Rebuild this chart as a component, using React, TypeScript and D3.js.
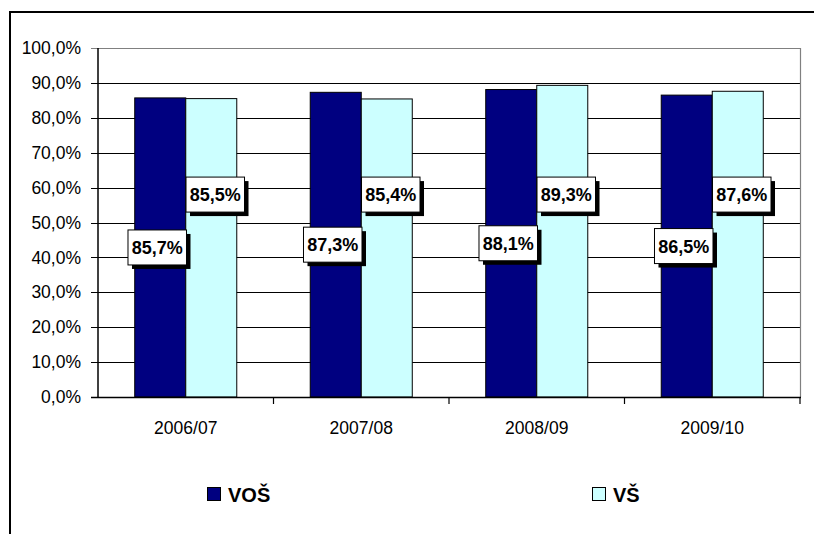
import React, { useEffect, useRef } from 'react';
import * as d3 from 'd3';

const categories = ['2006/07', '2007/08', '2008/09', '2009/10'];
const vosValues = [0.857, 0.873, 0.881, 0.865];
const vsValues = [0.855, 0.854, 0.893, 0.876];
const seriesNames = ['VOŠ', 'VŠ'];
const seriesColors = ['#000080', '#CCFFFF'];
const yTicks = [0, 0.1, 0.2, 0.3, 0.4, 0.5, 0.6, 0.7, 0.8, 0.9, 1.0];
// level where the VŠ labels were dragged to in the original
const vsLabelLevel = 0.58;

const fmt = (v: number) => (v * 100).toFixed(1).replace('.', ',') + '%';

export default function App() {
  const ref = useRef<SVGSVGElement>(null);

  useEffect(() => {
    const svg = d3.select(ref.current);
    svg.selectAll('*').remove();

    const width = 814, height = 534;
    const left = 98, right = 800, top = 48, bottom = 397;
    const font = 'Liberation Sans, Arial, sans-serif';

    // outer chart frame
    svg.append('rect')
      .attr('x', 10).attr('y', 12)
      .attr('width', 900).attr('height', 700)
      .attr('fill', '#fff').attr('stroke', '#000').attr('stroke-width', 2);

    const x = d3.scaleBand().domain(categories).range([left, right]);
    const y = d3.scaleLinear().domain([0, 1]).range([bottom, top]);
    const inner = d3.scaleBand().domain(seriesNames).range([0, x.bandwidth()])
      .paddingInner(0).paddingOuter(0.72);

    // gridlines
    svg.append('g').selectAll('line')
      .data(yTicks.filter(t => t > 0))
      .enter().append('line')
      .attr('x1', left - 7).attr('x2', right)
      .attr('y1', d => Math.round(y(d)) + 0.5).attr('y2', d => Math.round(y(d)) + 0.5)
      .attr('stroke', d => d === 1 ? '#808080' : '#000').attr('stroke-width', 1.2);

    // right plot border
    svg.append('line')
      .attr('x1', right + 0.5).attr('x2', right + 0.5)
      .attr('y1', top).attr('y2', bottom)
      .attr('stroke', '#808080').attr('stroke-width', 1.2);

    // y labels
    svg.append('g').selectAll('text')
      .data(yTicks).enter().append('text')
      .attr('x', 81).attr('y', d => y(d))
      .attr('dy', '0.35em').attr('text-anchor', 'end')
      .attr('font-family', font).attr('font-size', 17.5)
      .text(d => fmt(d));

    // bars
    const series = [vosValues, vsValues];
    series.forEach((vals, si) => {
      svg.append('g').selectAll('rect')
        .data(vals).enter().append('rect')
        .attr('x', (d, i) => x(categories[i])! + inner(seriesNames[si])!)
        .attr('y', d => y(d))
        .attr('width', inner.bandwidth())
        .attr('height', d => bottom - y(d))
        .attr('fill', seriesColors[si])
        .attr('stroke', '#000').attr('stroke-width', 1);
    });

    // axes
    svg.append('line')
      .attr('x1', left).attr('x2', left).attr('y1', top).attr('y2', bottom)
      .attr('stroke', '#000').attr('stroke-width', 1.5);
    svg.append('line')
      .attr('x1', left - 7).attr('x2', right + 1).attr('y1', bottom + 0.5).attr('y2', bottom + 0.5)
      .attr('stroke', '#000').attr('stroke-width', 1.5);
    svg.append('g').selectAll('line')
      .data(categories.slice(1).concat(['end']))
      .enter().append('line')
      .attr('x1', (d, i) => left + x.step() * (i + 1))
      .attr('x2', (d, i) => left + x.step() * (i + 1))
      .attr('y1', bottom).attr('y2', bottom + 7)
      .attr('stroke', '#000').attr('stroke-width', 1.2);

    svg.append('g').selectAll('text')
      .data(categories).enter().append('text')
      .attr('x', d => x(d)! + x.bandwidth() / 2)
      .attr('y', 433.5)
      .attr('text-anchor', 'middle')
      .attr('font-family', font).attr('font-size', 17.5)
      .text(d => d);

    // data labels with shadow boxes
    const bw = 58.5, bh = 35;
    series.forEach((vals, si) => {
      const g = svg.append('g');
      vals.forEach((v, i) => {
        const cx = x(categories[i])! + inner(seriesNames[si])! + inner.bandwidth() / 2 + (si === 1 ? 4 : -3);
        const cy = si === 0 ? y(v / 2) : y(vsLabelLevel);
        g.append('rect')
          .attr('x', cx - bw / 2 + 4).attr('y', cy - bh / 2 + 4)
          .attr('width', bw).attr('height', bh).attr('fill', '#000');
        g.append('rect')
          .attr('x', cx - bw / 2).attr('y', cy - bh / 2)
          .attr('width', bw).attr('height', bh)
          .attr('fill', '#fff').attr('stroke', '#000').attr('stroke-width', 1);
        g.append('text')
          .attr('x', cx).attr('y', cy).attr('dy', '0.36em')
          .attr('text-anchor', 'middle')
          .attr('font-family', font).attr('font-size', 18).attr('font-weight', 'bold')
          .text(fmt(v));
      });
    });

    // legend
    const legendX = [207, 592];
    seriesNames.forEach((name, i) => {
      svg.append('rect')
        .attr('x', legendX[i] + 0.5).attr('y', 487.5)
        .attr('width', 13).attr('height', 13)
        .attr('fill', seriesColors[i]).attr('stroke', '#000');
      svg.append('text')
        .attr('x', legendX[i] + 21).attr('y', 502)
        .attr('font-family', font).attr('font-size', 20).attr('font-weight', 'bold')
        .text(name);
    });

    svg.attr('width', width).attr('height', height);
  }, []);

  return (
    <svg ref={ref} width={814} height={534}
      style={{ position: 'absolute', left: 0, top: 0, background: '#fff' }} />
  );
}
